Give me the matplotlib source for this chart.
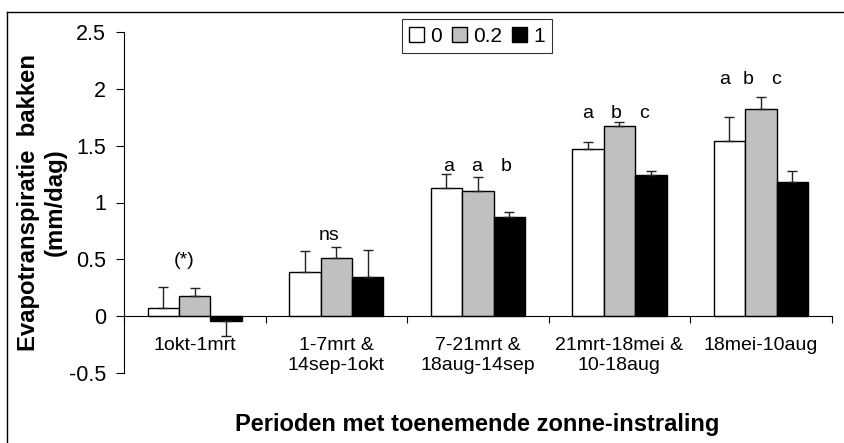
import matplotlib
matplotlib.use("Agg")
import matplotlib.pyplot as plt
import numpy as np
from matplotlib.lines import Line2D
from matplotlib.patches import Patch

plt.rcParams['font.family'] = ['Liberation Sans', 'DejaVu Sans']

categories = ["1okt-1mrt", "1-7mrt &\n14sep-1okt", "7-21mrt &\n18aug-14sep",
              "21mrt-18mei &\n10-18aug", "18mei-10aug"]
series_names = ["0", "0.2", "1"]
values_0 = [0.07, 0.39, 1.13, 1.47, 1.54]
errors_0 = [0.19, 0.18, 0.12, 0.065, 0.21]
values_02 = [0.18, 0.51, 1.10, 1.67, 1.82]
errors_02 = [0.07, 0.10, 0.12, 0.035, 0.11]
values_1 = [-0.04, 0.35, 0.87, 1.24, 1.18]
errors_1 = [0.13, 0.23, 0.05, 0.035, 0.10]
yticks = [-0.5, 0, 0.5, 1, 1.5, 2, 2.5]
ytick_labels = ["-0.5", "0", "0.5", "1", "1.5", "2", "2.5"]

# significance letters: (text, x, y) in data coordinates
annotations = [("(*)", -0.076, 0.494), ("ns", 0.948, 0.713),
               ("a", 1.795, 1.312), ("a", 1.991, 1.312), ("b", 2.198, 1.312),
               ("a", 2.775, 1.786), ("b", 2.979, 1.786), ("c", 3.172, 1.786),
               ("a", 3.744, 2.079), ("b", 3.909, 2.079), ("c", 4.104, 2.079)]

W, H = 845, 443
fig = plt.figure(figsize=(W / 100, H / 100), dpi=100)
ax = fig.add_axes([124 / W, (H - 373.3) / H, (831.7 - 124) / W, (373.3 - 31.7) / H])

x = np.arange(len(categories))
bw = 1 / 4.5
colors = ["white", "#c0c0c0", "black"]
all_vals = [values_0, values_02, values_1]
all_errs = [errors_0, errors_02, errors_1]
for i, (vals, errs, c) in enumerate(zip(all_vals, all_errs, colors)):
    xs = x + (i - 1) * bw
    ax.bar(xs, vals, width=bw, color=c, edgecolor="black", linewidth=1.0, zorder=2,
           label=series_names[i])
    vals = np.array(vals)
    errs = np.array(errs)
    lower = np.where(vals < 0, errs, 0)
    upper = np.where(vals < 0, 0, errs)
    ax.errorbar(xs, vals, yerr=[lower, upper], fmt="none", ecolor="#222222",
                elinewidth=1.0, capsize=3.4, capthick=1.0, zorder=3)

for txt, xx, yy in annotations:
    ax.text(xx, yy, txt, ha="center", va="center", fontsize=14, zorder=4)

ax.set_xlim(-0.5, len(categories) - 0.5)
ax.set_ylim(-0.5, 2.5)
ax.set_yticks(yticks)
ax.set_yticklabels(ytick_labels)
ax.tick_params(axis="y", direction="out", length=6, width=0.8, pad=7, labelsize=15.5)

ax.set_xticks(np.arange(-0.5, len(categories), 1.0))
ax.set_xticklabels([])
ax.set_xticks(x, minor=True)
ax.set_xticklabels(categories, minor=True, linespacing=1.15)
ax.tick_params(axis="x", which="major", direction="out", length=5, width=0.8)
ax.tick_params(axis="x", which="minor", length=0, pad=15, labelsize=14)

for s in ["top", "right"]:
    ax.spines[s].set_visible(False)
ax.spines["bottom"].set_position(("data", 0))
ax.spines["bottom"].set_linewidth(0.8)
ax.spines["left"].set_linewidth(0.8)

fig.text(42 / W, 1 - 202.5 / H, "Evapotranspiratie  bakken\n(mm/dag)", rotation=90,
         ha="center", va="center", fontsize=17.2, fontweight="bold", linespacing=1.25,
         multialignment="center")
fig.text(477 / W, 1 - 425 / H, "Perioden met toenemende zonne-instraling",
         ha="center", va="center", fontsize=17, fontweight="bold")

handles = [Patch(facecolor=c, edgecolor="black", linewidth=1.0) for c in colors]
leg = fig.legend(handles, series_names, loc="center", bbox_to_anchor=(477 / W, 1 - 36 / H),
                 ncol=3, fontsize=15, frameon=True, fancybox=False, handlelength=0.7,
                 handleheight=0.7, handletextpad=0.3, columnspacing=0.5, borderpad=0.35,
                 borderaxespad=0)
leg.get_frame().set_edgecolor("black")
leg.get_frame().set_linewidth(0.8)

# outer chart border (Excel chart area)
fig.add_artist(Line2D([7 / W, 1], [1 - 11.5 / H, 1 - 11.5 / H], color="black", lw=1.0))
fig.add_artist(Line2D([7 / W, 7 / W], [0, 1 - 11.5 / H], color="black", lw=1.0))

fig.savefig("out.png", dpi=100)
